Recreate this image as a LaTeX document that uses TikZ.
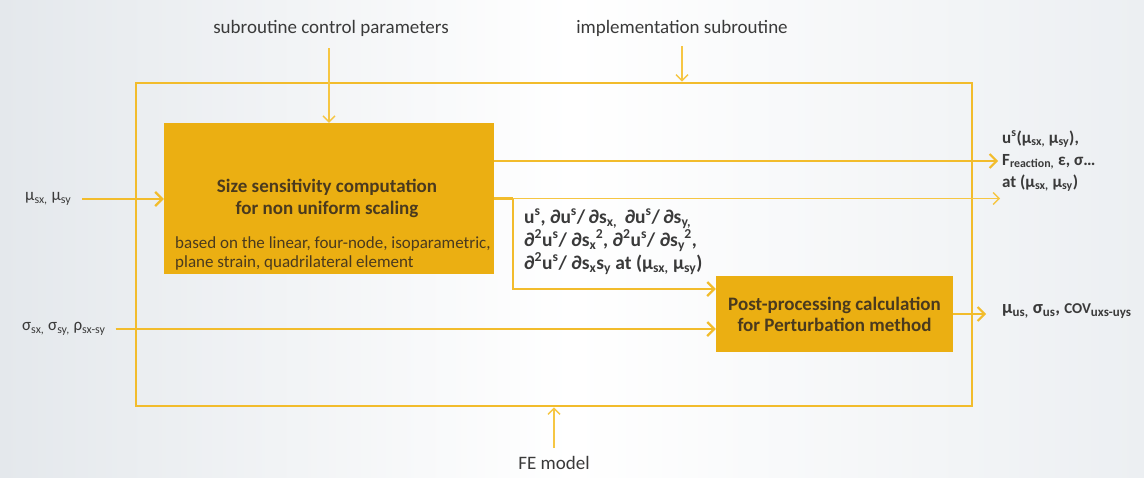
\documentclass[tikz,border=0pt]{standalone}
\usepackage{fontspec}
\setmainfont{Carlito}
\usetikzlibrary{arrows.meta,calc}
\definecolor{boxfill}{HTML}{EBAF12}
\definecolor{linecol}{HTML}{F2BC2C}
\definecolor{thincol}{HTML}{F6C643}
\definecolor{txt}{HTML}{3A3A3A}
\definecolor{boxtxt}{HTML}{4A3A1E}
\definecolor{bgl}{HTML}{E4E8EC}
\definecolor{bgr}{HTML}{ECEFF2}
\newcommand\sbsp[2]{\textsubscript{#1}\kern-0.5pt\textsuperscript{#2}}
\begin{document}
\begin{tikzpicture}[x=1pt,y=-1pt,
  box/.style={fill=boxfill,draw=none,inner sep=0pt},
  framebox/.style={draw=linecol,line width=2.6pt,fill=none,inner sep=0pt},
  lbl/.style={text=txt,font=\fontsize{19}{22}\selectfont,inner sep=2pt},
  inlbl/.style={text=txt,font=\fontsize{17}{20}\selectfont,inner sep=2pt},
  blbl/.style={text=txt,font=\fontsize{17}{22}\selectfont\bfseries,inner sep=2pt,align=left},
  thickarrow/.style={draw=linecol,line width=2.6pt,-{Straight Barb[length=7pt,width=14pt,line width=2.2pt]}},
  medarrow/.style={draw=linecol,line width=2pt,-{Straight Barb[length=7pt,width=14pt,line width=2pt]}},
  thinarrow/.style={draw=thincol,line width=1.4pt,-{Straight Barb[length=6pt,width=12pt,line width=1.4pt]}},
  thickline/.style={draw=linecol,line width=2.6pt}]
\useasboundingbox (0,0) rectangle (1144,477);
\shade[left color=bgl,right color=bgr,middle color=white] (0,0) rectangle (1144,477);
% frame and boxes
\node[framebox,minimum width=836pt,minimum height=323pt] (fr) at (554,244.5) {};
\node[box,minimum width=330pt,minimum height=151pt] (b1) at (329,198.5) {};
\node[text=boxtxt,font=\fontsize{19}{22}\selectfont\bfseries,align=center] (t1) at (327,198) {Size sensitivity computation\\for non uniform scaling};
\node[text=boxtxt,font=\fontsize{17}{19}\selectfont,align=left,anchor=west,inner sep=0pt] (t2) at (175,253.5) {based on the linear, four-node, isoparametric,\\plane strain, quadrilateral element};
\node[box,minimum width=237pt,minimum height=76pt,text=boxtxt,font=\fontsize{19}{21}\selectfont\bfseries,align=center] (b2) at (834.5,314) {Post-processing calculation\\for Perturbation method};
% labels
\node[lbl] (lscp) at (331,28) {subroutine control parameters};
\node[lbl] (limp) at (682,28) {implementation subroutine};
\node[lbl] (lfe) at (554,463) {FE model};
\node[inlbl,anchor=west] (lmu) at (23,199) {μ\textsubscript{sx,} μ\textsubscript{sy}};
\node[inlbl,anchor=west] (lsig) at (20,329) {σ\textsubscript{sx,} σ\textsubscript{sy,} ρ\textsubscript{sx-sy}};
\node[blbl,anchor=west] (lout1) at (1000,161) {u\textsuperscript{s}(μ\textsubscript{sx,} μ\textsubscript{sy}),\\F\textsubscript{reaction,} ε, σ…\\at (μ\textsubscript{sx,} μ\textsubscript{sy})};
\node[blbl,anchor=west,font=\fontsize{18.5}{22}\selectfont\bfseries] (lout3) at (1000,311) {μ\textsubscript{us,} σ\textsubscript{us}, {\fontsize{15}{18}\selectfont COV}\textsubscript{uxs-uys}};
\node[blbl,anchor=west,inner sep=0pt,font=\fontsize{19.5}{23}\selectfont\bfseries] (lmid) at (524,242) {u\textsuperscript{s}, ∂u\textsuperscript{s}/\,∂s\textsubscript{x,}\, ∂u\textsuperscript{s}/\,∂s\textsubscript{y,}\\∂\textsuperscript{2}u\textsuperscript{s}/ ∂s\sbsp{x}{2}, ∂\textsuperscript{2}u\textsuperscript{s}/ ∂s\sbsp{y}{2},\\∂\textsuperscript{2}u\textsuperscript{s}/ ∂s\textsubscript{x}s\textsubscript{y} at (μ\textsubscript{sx,} μ\textsubscript{sy})};
% connectors
\coordinate (br) at (513,198.5);
\coordinate (o2) at (1000,198.5);
\draw[thinarrow,shorten <=10pt] (lscp.south -| b1.north) -- (b1.north);
\draw[thinarrow,shorten <=8pt] (limp.south) -- (limp.south |- fr.north);
\draw[thinarrow,shorten <=6pt] (lfe.north) -- (lfe.north |- fr.south);
\draw[thickarrow,shorten <=9pt] (lmu.east) -- (lmu.east -| b1.west);
\draw[thickarrow,shorten <=8pt] (lsig.east) -- (lsig.east -| b2.west);
\draw[medarrow,shorten >=2pt] (b1.east |- lout1.west) -- (lout1.west);
\draw[thickline] (b1.east) -- (br);
\draw[thickarrow] (br) |- ([yshift=25pt]b2.west);
\draw[thinarrow] (br) -- (o2);
\draw[medarrow,shorten >=14pt] (b2.east) -- (b2.east -| lout3.west);
\end{tikzpicture}
\end{document}
